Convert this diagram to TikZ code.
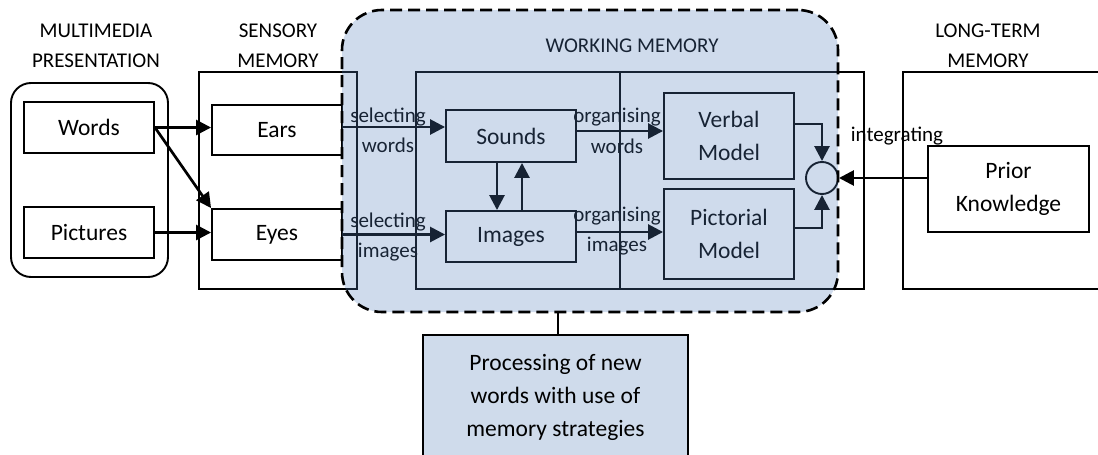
\documentclass[tikz,border=0pt]{standalone}
\usepackage{fontspec}
\setmainfont{Carlito}
\usetikzlibrary{arrows.meta,calc}
\definecolor{wmblue}{RGB}{83,126,187}
\definecolor{boxblue}{RGB}{207,219,235}
\begin{document}
\begin{tikzpicture}[x=1pt,y=-1pt,
 box/.style={draw, line width=1.9pt, inner sep=0pt, align=center, font=\fontsize{23.5}{33}\selectfont},
 frame/.style={draw, line width=1.9pt, inner sep=0pt},
 head/.style={font=\fontsize{21}{30}\selectfont, align=center, inner sep=0pt},
 lab/.style={font=\fontsize{21}{25}\selectfont, inner sep=0pt},
 arr/.style={line width=2.7pt, -{Triangle[length=15pt,width=15pt]}},
 wmregion/.style={draw, dash pattern=on 12pt off 6pt, line width=2.6pt, fill=wmblue, fill opacity=0.28, rounded corners=40pt, inner sep=0pt},
]
\useasboundingbox (0,0) rectangle (1098,455);

% headings
\node[head] (hmp) at (96,45.5) {MULTIMEDIA\\PRESENTATION};
\node[head] (hsm) at (278,45.5) {SENSORY\\MEMORY};
\node[head] (hltm) at (988,45.5) {LONG-TERM\\MEMORY};
\node[head] (hwm) at (632,46) {WORKING MEMORY};

% frames
\node[frame, rounded corners=20pt, minimum width=157pt, minimum height=194pt] (mp) at (89.5,180) {};
\node[frame, minimum width=158pt, minimum height=217pt] (sm) at (278,180.5) {};
\node[frame, minimum width=448pt, minimum height=217pt] (wmr) at (640,180.5) {};
\draw[line width=1.9pt] (wmr.north west) ++(205,0) -- ++(0,217);
\node[frame, minimum width=220pt, minimum height=217pt] (ltm) at (1013,180.5) {};

% boxes
\node[box, minimum width=130pt, minimum height=51pt] (words) at (89,127.5) {Words};
\node[box, minimum width=130pt, minimum height=51pt] (pictures) at (89,232.5) {Pictures};
\node[box, minimum width=130pt, minimum height=50pt] (ears) at (277,130) {Ears};
\node[box, minimum width=130pt, minimum height=51pt] (eyes) at (277,234.5) {Eyes};
\node[box, minimum width=130pt, minimum height=52pt] (sounds) at (511,136) {Sounds};
\node[box, minimum width=130pt, minimum height=51pt] (images) at (511,236.5) {Images};
\node[box, minimum width=130pt, minimum height=86pt] (verbal) at (729,136) {Verbal\\Model};
\node[box, minimum width=130pt, minimum height=90pt] (pictorial) at (729,234) {Pictorial\\Model};
\node[box, minimum width=161pt, minimum height=86pt] (prior) at (1008.5,189) {Prior\\Knowledge};
\node[draw, circle, line width=1.9pt, minimum size=32pt, inner sep=0pt] (circ) at (822,178) {};

% arrows
\draw[arr] (words.east) -- (words.east -| ears.west);
\draw[arr] (words.east) -- (eyes.north west);
\draw[arr] (pictures.east) -- (pictures.east -| eyes.west);
\draw[arr] ([yshift=3pt]ears.east) -- ([yshift=3pt]ears.east -| sounds.west);
\draw[arr] (eyes.east) -- (eyes.east -| images.west);
\draw[arr] ([yshift=5pt]sounds.east) -- ([yshift=5pt]sounds.east -| verbal.west);
\draw[arr] ([yshift=4.5pt]images.east) -- ([yshift=4.5pt]images.east -| pictorial.west);
\draw[arr] ([xshift=-14pt]sounds.south) -- ([xshift=-14pt]sounds.south |- images.north);
\draw[arr] ([xshift=11pt]images.north) -- ([xshift=11pt]images.north |- sounds.south);
\draw[arr] ([yshift=12pt]verbal.east) -| (circ.north);
\draw[arr] ([yshift=6pt]pictorial.east) -| (circ.south);
\draw[arr] (prior.west |- circ.east) -- (circ.east);

% labels
\node[lab] (ls1) at (388,117) {selecting};
\node[lab] (ls2) at (388,145) {words};
\node[lab] (ls3) at (388,222) {selecting};
\node[lab] (ls4) at (388,252) {images};
\node[lab] (lo1) at (617,117) {organising};
\node[lab] (lo2) at (617,146) {words};
\node[lab] (lo3) at (617,216) {organising};
\node[lab] (lo4) at (617,246) {images};
\node[lab] (lint) at (897,136) {integrating};

% working memory region
\node[wmregion, minimum width=496pt, minimum height=302pt] (wm) at (590,161) {};

% processing box
\node[box, fill=boxblue, minimum width=265pt, minimum height=124pt, anchor=north] (proc) at (555.5,334) {Processing of new\\words with use of\\memory strategies};
\draw[line width=1.9pt] ([xshift=2.5pt]proc.north) -- ([xshift=2.5pt]proc.north |- wm.south);
\end{tikzpicture}
\end{document}
